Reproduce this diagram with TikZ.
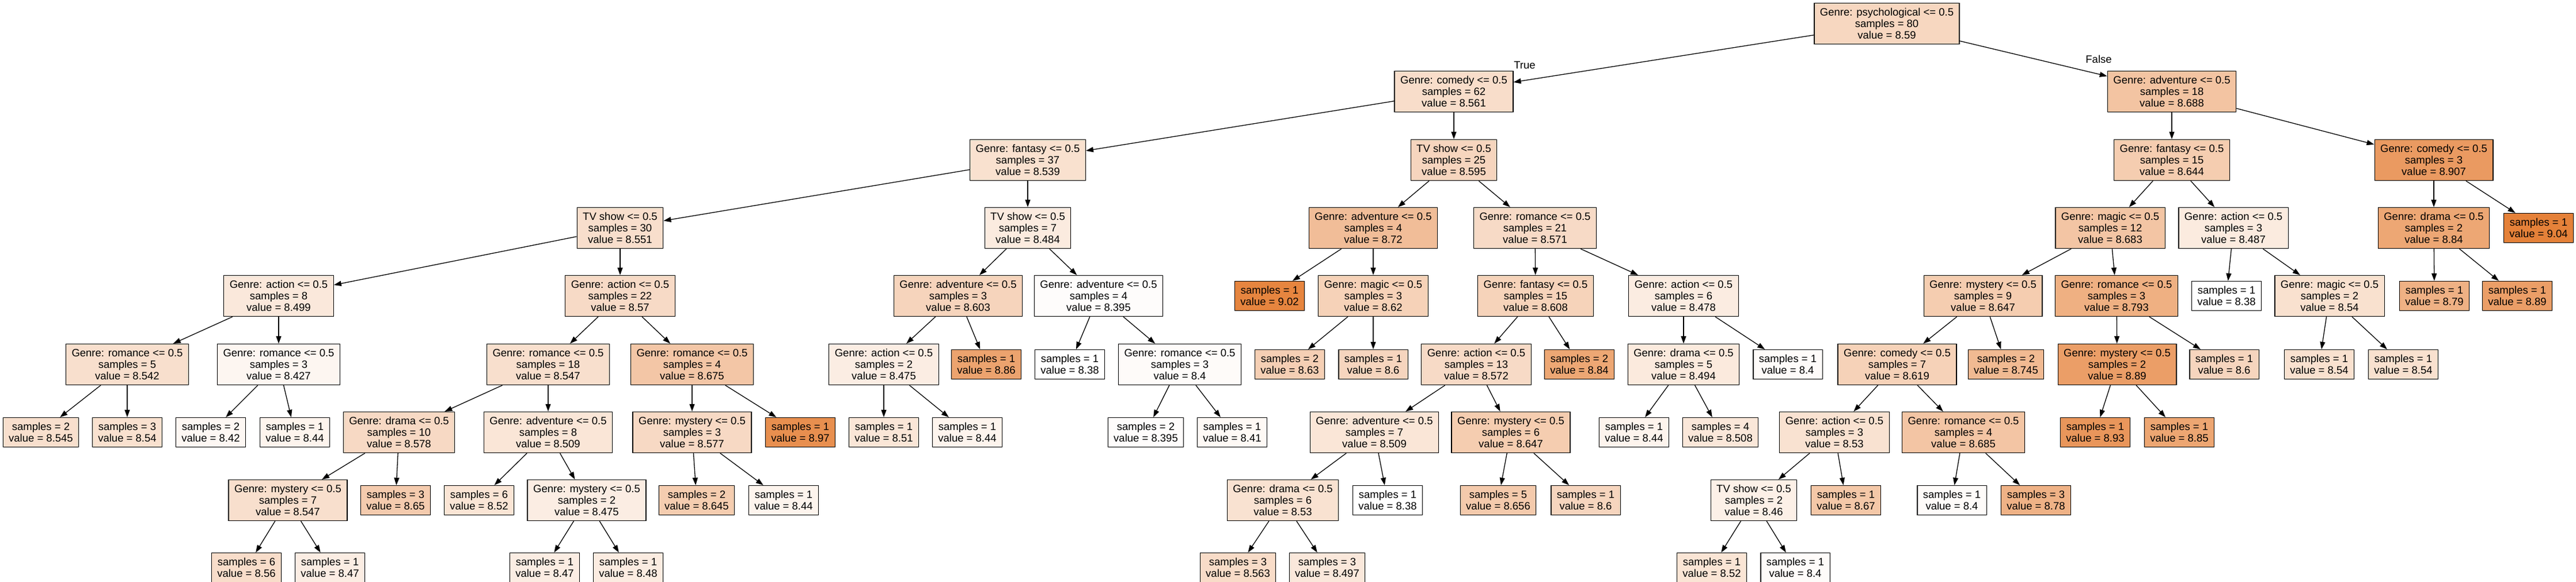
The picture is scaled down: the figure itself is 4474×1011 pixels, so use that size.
\documentclass[tikz,border=0pt]{standalone}
\usepackage{fontspec}
\setmainfont{Liberation Sans}
\usetikzlibrary{arrows.meta}
\definecolor{treeor}{HTML}{E58139}

\begin{document}
\begin{tikzpicture}[
    x=1pt, y=-1pt,
    font=\fontsize{18.5pt}{20pt}\selectfont,
    split/.style={draw, line width=1.3pt, minimum height=71pt, inner xsep=10pt, inner ysep=0pt, align=center},
    leaf/.style={split, minimum height=51pt},
    val/.code={\pgfmathtruncatemacro\pct{round((#1-8.38)*100/0.66)}\pgfkeysalso{fill=treeor!\pct!white}},
    arr/.style={-{Triangle[length=13pt, width=9pt]}, line width=1.3pt},
    lbl/.style={inner sep=0pt}
]
    \path[use as bounding box, fill=white] (0,0) rectangle (4474,1011);

    \node[split, val=8.59] (n0) at (3277,41) {Genre: psychological <= 0.5\\samples = 80\\value = 8.59};

    \node[split, val=8.561] (n1) at (2525,159) {Genre: comedy <= 0.5\\samples = 62\\value = 8.561};
    \node[split, val=8.688] (n62) at (3772,159) {Genre: adventure <= 0.5\\samples = 18\\value = 8.688};
    \node[lbl] (truelbl) at (2648,113) {True};
    \node[lbl] (falselbl) at (3645,103) {False};

    \node[split, val=8.539] (n2) at (1785,278) {Genre: fantasy <= 0.5\\samples = 37\\value = 8.539};
    \node[split, val=8.595] (n39) at (2525,278) {TV show <= 0.5\\samples = 25\\value = 8.595};
    \node[split, val=8.644] (n63) at (3772,278) {Genre: fantasy <= 0.5\\samples = 15\\value = 8.644};
    \node[split, val=8.907] (n86) at (4227,278) {Genre: comedy <= 0.5\\samples = 3\\value = 8.907};

    \node[split, val=8.551] (n3) at (1077,396) {TV show <= 0.5\\samples = 30\\value = 8.551};
    \node[split, val=8.484] (n28) at (1785,396) {TV show <= 0.5\\samples = 7\\value = 8.484};
    \node[split, val=8.72] (n40) at (2385,396) {Genre: adventure <= 0.5\\samples = 4\\value = 8.72};
    \node[split, val=8.571] (n45) at (2666,396) {Genre: romance <= 0.5\\samples = 21\\value = 8.571};
    \node[split, val=8.683] (n64) at (3665,396) {Genre: magic <= 0.5\\samples = 12\\value = 8.683};
    \node[split, val=8.487] (n81) at (3879,396) {Genre: action <= 0.5\\samples = 3\\value = 8.487};
    \node[split, val=8.84] (n87) at (4227,396) {Genre: drama <= 0.5\\samples = 2\\value = 8.84};
    \node[leaf, val=9.04] (n90) at (4409,396) {samples = 1\\value = 9.04};

    \node[split, val=8.499] (n4) at (484,514) {Genre: action <= 0.5\\samples = 8\\value = 8.499};
    \node[split, val=8.57] (n11) at (1077,514) {Genre: action <= 0.5\\samples = 22\\value = 8.57};
    \node[split, val=8.603] (n29) at (1664,514) {Genre: adventure <= 0.5\\samples = 3\\value = 8.603};
    \node[split, val=8.395] (n34) at (1908,514) {Genre: adventure <= 0.5\\samples = 4\\value = 8.395};
    \node[leaf, val=9.02] (n41) at (2205,514) {samples = 1\\value = 9.02};
    \node[split, val=8.62] (n42) at (2385,514) {Genre: magic <= 0.5\\samples = 3\\value = 8.62};
    \node[split, val=8.608] (n46) at (2667,514) {Genre: fantasy <= 0.5\\samples = 15\\value = 8.608};
    \node[split, val=8.478] (n57) at (2924,514) {Genre: action <= 0.5\\samples = 6\\value = 8.478};
    \node[split, val=8.647] (n65) at (3444,514) {Genre: mystery <= 0.5\\samples = 9\\value = 8.647};
    \node[split, val=8.793] (n76) at (3676,514) {Genre: romance <= 0.5\\samples = 3\\value = 8.793};
    \node[leaf, val=8.38] (n82) at (3867,514) {samples = 1\\value = 8.38};
    \node[split, val=8.54] (n83) at (4046,514) {Genre: magic <= 0.5\\samples = 2\\value = 8.54};
    \node[leaf, val=8.79] (n88) at (4228,514) {samples = 1\\value = 8.79};
    \node[leaf, val=8.89] (n89) at (4372,514) {samples = 1\\value = 8.89};

    \node[split, val=8.542] (n5) at (221,633) {Genre: romance <= 0.5\\samples = 5\\value = 8.542};
    \node[split, val=8.427] (n8) at (484,633) {Genre: romance <= 0.5\\samples = 3\\value = 8.427};
    \node[split, val=8.547] (n12) at (952,633) {Genre: romance <= 0.5\\samples = 18\\value = 8.547};
    \node[split, val=8.675] (n23) at (1202,633) {Genre: romance <= 0.5\\samples = 4\\value = 8.675};
    \node[split, val=8.475] (n30) at (1535,633) {Genre: action <= 0.5\\samples = 2\\value = 8.475};
    \node[leaf, val=8.86] (n33) at (1713,633) {samples = 1\\value = 8.86};
    \node[leaf, val=8.38] (n35) at (1858,633) {samples = 1\\value = 8.38};
    \node[split, val=8.4] (n36) at (2049,633) {Genre: romance <= 0.5\\samples = 3\\value = 8.4};
    \node[leaf, val=8.63] (n43) at (2240,633) {samples = 2\\value = 8.63};
    \node[leaf, val=8.6] (n44) at (2385,633) {samples = 1\\value = 8.6};
    \node[split, val=8.572] (n47) at (2564,633) {Genre: action <= 0.5\\samples = 13\\value = 8.572};
    \node[leaf, val=8.84] (n56) at (2743,633) {samples = 2\\value = 8.84};
    \node[split, val=8.494] (n58) at (2924,633) {Genre: drama <= 0.5\\samples = 5\\value = 8.494};
    \node[leaf, val=8.4] (n61) at (3105,633) {samples = 1\\value = 8.4};
    \node[split, val=8.619] (n66) at (3295,633) {Genre: comedy <= 0.5\\samples = 7\\value = 8.619};
    \node[leaf, val=8.745] (n75) at (3484,633) {samples = 2\\value = 8.745};
    \node[split, val=8.89] (n77) at (3677,633) {Genre: mystery <= 0.5\\samples = 2\\value = 8.89};
    \node[leaf, val=8.6] (n80) at (3863,633) {samples = 1\\value = 8.6};
    \node[leaf, val=8.54] (n84) at (4028,633) {samples = 1\\value = 8.54};
    \node[leaf, val=8.54] (n85) at (4174,633) {samples = 1\\value = 8.54};

    \node[leaf, val=8.545] (n6) at (71,751) {samples = 2\\value = 8.545};
    \node[leaf, val=8.54] (n7) at (221,751) {samples = 3\\value = 8.54};
    \node[leaf, val=8.42] (n9) at (366,751) {samples = 2\\value = 8.42};
    \node[leaf, val=8.44] (n10) at (512,751) {samples = 1\\value = 8.44};
    \node[split, val=8.578] (n13) at (693,751) {Genre: drama <= 0.5\\samples = 10\\value = 8.578};
    \node[split, val=8.509] (n18) at (952,751) {Genre: adventure <= 0.5\\samples = 8\\value = 8.509};
    \node[split, val=8.577] (n24) at (1202,751) {Genre: mystery <= 0.5\\samples = 3\\value = 8.577};
    \node[leaf, val=8.97] (n27) at (1390,751) {samples = 1\\value = 8.97};
    \node[leaf, val=8.51] (n31) at (1535,751) {samples = 1\\value = 8.51};
    \node[leaf, val=8.44] (n32) at (1680,751) {samples = 1\\value = 8.44};
    \node[leaf, val=8.395] (n37) at (1990,751) {samples = 2\\value = 8.395};
    \node[leaf, val=8.41] (n38) at (2140,751) {samples = 1\\value = 8.41};
    \node[split, val=8.509] (n48) at (2387,751) {Genre: adventure <= 0.5\\samples = 7\\value = 8.509};
    \node[split, val=8.647] (n53) at (2624,751) {Genre: mystery <= 0.5\\samples = 6\\value = 8.647};
    \node[leaf, val=8.44] (n59) at (2838,751) {samples = 1\\value = 8.44};
    \node[leaf, val=8.508] (n60) at (2988,751) {samples = 4\\value = 8.508};
    \node[split, val=8.53] (n67) at (3186,751) {Genre: action <= 0.5\\samples = 3\\value = 8.53};
    \node[split, val=8.685] (n72) at (3410,751) {Genre: romance <= 0.5\\samples = 4\\value = 8.685};
    \node[leaf, val=8.93] (n78) at (3639,751) {samples = 1\\value = 8.93};
    \node[leaf, val=8.85] (n79) at (3785,751) {samples = 1\\value = 8.85};

    \node[split, val=8.547] (n14) at (500,869) {Genre: mystery <= 0.5\\samples = 7\\value = 8.547};
    \node[leaf, val=8.65] (n17) at (687,869) {samples = 3\\value = 8.65};
    \node[leaf, val=8.52] (n19) at (832,869) {samples = 6\\value = 8.52};
    \node[split, val=8.475] (n20) at (1019,869) {Genre: mystery <= 0.5\\samples = 2\\value = 8.475};
    \node[leaf, val=8.645] (n25) at (1210,869) {samples = 2\\value = 8.645};
    \node[leaf, val=8.44] (n26) at (1361,869) {samples = 1\\value = 8.44};
    \node[split, val=8.53] (n49) at (2228,869) {Genre: drama <= 0.5\\samples = 6\\value = 8.53};
    \node[leaf, val=8.38] (n52) at (2410,869) {samples = 1\\value = 8.38};
    \node[leaf, val=8.656] (n54) at (2602,869) {samples = 5\\value = 8.656};
    \node[leaf, val=8.6] (n55) at (2754,869) {samples = 1\\value = 8.6};
    \node[split, val=8.46] (n68) at (3046,869) {TV show <= 0.5\\samples = 2\\value = 8.46};
    \node[leaf, val=8.67] (n71) at (3206,869) {samples = 1\\value = 8.67};
    \node[leaf, val=8.4] (n73) at (3390,869) {samples = 1\\value = 8.4};
    \node[leaf, val=8.78] (n74) at (3536,869) {samples = 3\\value = 8.78};

    \node[leaf, val=8.56] (n15) at (428,986) {samples = 6\\value = 8.56};
    \node[leaf, val=8.47] (n16) at (573,986) {samples = 1\\value = 8.47};
    \node[leaf, val=8.47] (n21) at (946,986) {samples = 1\\value = 8.47};
    \node[leaf, val=8.48] (n22) at (1091,986) {samples = 1\\value = 8.48};
    \node[leaf, val=8.563] (n50) at (2150,986) {samples = 3\\value = 8.563};
    \node[leaf, val=8.497] (n51) at (2305,986) {samples = 3\\value = 8.497};
    \node[leaf, val=8.52] (n69) at (2973,986) {samples = 1\\value = 8.52};
    \node[leaf, val=8.4] (n70) at (3118,986) {samples = 1\\value = 8.4};

    \draw[arr] (n0) -- (n1);
    \draw[arr] (n0) -- (n62);
    \draw[arr] (n1) -- (n2);
    \draw[arr] (n1) -- (n39);
    \draw[arr] (n2) -- (n3);
    \draw[arr] (n2) -- (n28);
    \draw[arr] (n3) -- (n4);
    \draw[arr] (n3) -- (n11);
    \draw[arr] (n4) -- (n5);
    \draw[arr] (n4) -- (n8);
    \draw[arr] (n5) -- (n6);
    \draw[arr] (n5) -- (n7);
    \draw[arr] (n8) -- (n9);
    \draw[arr] (n8) -- (n10);
    \draw[arr] (n11) -- (n12);
    \draw[arr] (n11) -- (n23);
    \draw[arr] (n12) -- (n13);
    \draw[arr] (n12) -- (n18);
    \draw[arr] (n13) -- (n14);
    \draw[arr] (n13) -- (n17);
    \draw[arr] (n14) -- (n15);
    \draw[arr] (n14) -- (n16);
    \draw[arr] (n18) -- (n19);
    \draw[arr] (n18) -- (n20);
    \draw[arr] (n20) -- (n21);
    \draw[arr] (n20) -- (n22);
    \draw[arr] (n23) -- (n24);
    \draw[arr] (n23) -- (n27);
    \draw[arr] (n24) -- (n25);
    \draw[arr] (n24) -- (n26);
    \draw[arr] (n28) -- (n29);
    \draw[arr] (n28) -- (n34);
    \draw[arr] (n29) -- (n30);
    \draw[arr] (n29) -- (n33);
    \draw[arr] (n30) -- (n31);
    \draw[arr] (n30) -- (n32);
    \draw[arr] (n34) -- (n35);
    \draw[arr] (n34) -- (n36);
    \draw[arr] (n36) -- (n37);
    \draw[arr] (n36) -- (n38);
    \draw[arr] (n39) -- (n40);
    \draw[arr] (n39) -- (n45);
    \draw[arr] (n40) -- (n41);
    \draw[arr] (n40) -- (n42);
    \draw[arr] (n42) -- (n43);
    \draw[arr] (n42) -- (n44);
    \draw[arr] (n45) -- (n46);
    \draw[arr] (n45) -- (n57);
    \draw[arr] (n46) -- (n47);
    \draw[arr] (n46) -- (n56);
    \draw[arr] (n47) -- (n48);
    \draw[arr] (n47) -- (n53);
    \draw[arr] (n48) -- (n49);
    \draw[arr] (n48) -- (n52);
    \draw[arr] (n49) -- (n50);
    \draw[arr] (n49) -- (n51);
    \draw[arr] (n53) -- (n54);
    \draw[arr] (n53) -- (n55);
    \draw[arr] (n57) -- (n58);
    \draw[arr] (n57) -- (n61);
    \draw[arr] (n58) -- (n59);
    \draw[arr] (n58) -- (n60);
    \draw[arr] (n62) -- (n63);
    \draw[arr] (n62) -- (n86);
    \draw[arr] (n63) -- (n64);
    \draw[arr] (n63) -- (n81);
    \draw[arr] (n64) -- (n65);
    \draw[arr] (n64) -- (n76);
    \draw[arr] (n65) -- (n66);
    \draw[arr] (n65) -- (n75);
    \draw[arr] (n66) -- (n67);
    \draw[arr] (n66) -- (n72);
    \draw[arr] (n67) -- (n68);
    \draw[arr] (n67) -- (n71);
    \draw[arr] (n68) -- (n69);
    \draw[arr] (n68) -- (n70);
    \draw[arr] (n72) -- (n73);
    \draw[arr] (n72) -- (n74);
    \draw[arr] (n76) -- (n77);
    \draw[arr] (n76) -- (n80);
    \draw[arr] (n77) -- (n78);
    \draw[arr] (n77) -- (n79);
    \draw[arr] (n81) -- (n82);
    \draw[arr] (n81) -- (n83);
    \draw[arr] (n83) -- (n84);
    \draw[arr] (n83) -- (n85);
    \draw[arr] (n86) -- (n87);
    \draw[arr] (n86) -- (n90);
    \draw[arr] (n87) -- (n88);
    \draw[arr] (n87) -- (n89);
\end{tikzpicture}
\end{document}
